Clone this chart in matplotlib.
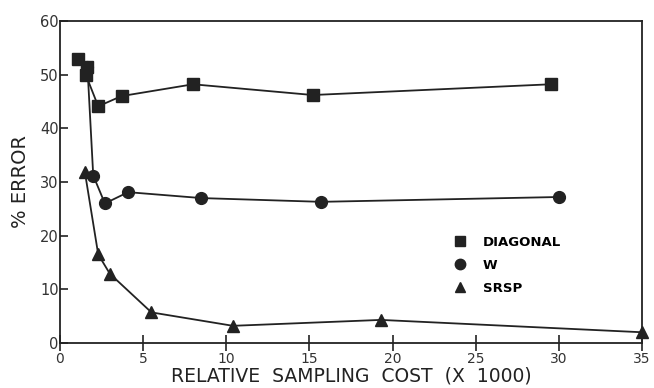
import matplotlib
matplotlib.use("Agg")
import matplotlib.pyplot as plt
from matplotlib.lines import Line2D

# Relative sampling cost (x 1000) and percent error for each design
diag_cost = [1.1, 1.6, 1.55, 2.3, 3.7, 8.0, 15.2, 29.5]
diag_err = [53.0, 51.5, 50.0, 44.1, 46.0, 48.2, 46.2, 48.2]

w_cost = [1.65, 2.0, 2.7, 4.1, 8.5, 15.7, 30.0]
w_err = [51.5, 31.2, 26.0, 28.1, 27.0, 26.3, 27.2]

srsp_cost = [1.5, 2.3, 3.0, 5.5, 10.4, 19.3, 35.0]
srsp_err = [31.8, 16.5, 12.9, 5.7, 3.2, 4.3, 2.0]

x_ticks = [0, 5, 10, 15, 20, 25, 30, 35]
y_ticks = [0, 10, 20, 30, 40, 50, 60]

ink = "#222222"

fig = plt.figure(figsize=(6.54, 3.88), dpi=100)
ax = fig.add_axes([0.0917, 0.116, 0.890, 0.830])

line_kw = dict(color=ink, linewidth=1.3, markersize=8.5, markeredgecolor=ink,
               markerfacecolor=ink, clip_on=False, zorder=3)
ax.plot(w_cost, w_err, marker="o", **line_kw)
ax.plot(srsp_cost, srsp_err, marker="^", **line_kw)
ax.plot(diag_cost, diag_err, marker="s", **line_kw)

ax.set_xlim(0, 35)
ax.set_ylim(0, 60)
ax.set_xticks(x_ticks)
ax.set_yticks(y_ticks)

for sp in ax.spines.values():
    sp.set_color(ink)
    sp.set_linewidth(1.3)

ax.tick_params(axis="x", direction="inout", length=12, width=1.2, color=ink,
               labelsize=10, labelcolor="#333333", pad=0.5)
ax.tick_params(axis="y", direction="in", length=6, width=1.2, color=ink,
               labelsize=10.5, labelcolor="#333333", pad=1)

ax.set_xlabel("RELATIVE  SAMPLING  COST  (X  1000)", fontsize=13.5,
              color=ink, labelpad=0)
ax.set_ylabel("% ERROR", fontsize=14, color=ink, labelpad=7)

handles = [
    Line2D([], [], linestyle="none", marker="s", color=ink, markersize=7.5),
    Line2D([], [], linestyle="none", marker="o", color=ink, markersize=7.5),
    Line2D([], [], linestyle="none", marker="^", color=ink, markersize=7.5),
]
ax.legend(handles, ["DIAGONAL", "W", "SRSP"], loc="upper left",
          bbox_to_anchor=(0.645, 0.37), frameon=False,
          handletextpad=0.7, labelspacing=0.75,
          prop={"weight": "bold", "size": 9.5})

fig.savefig("out.png", dpi=100, facecolor="white")
